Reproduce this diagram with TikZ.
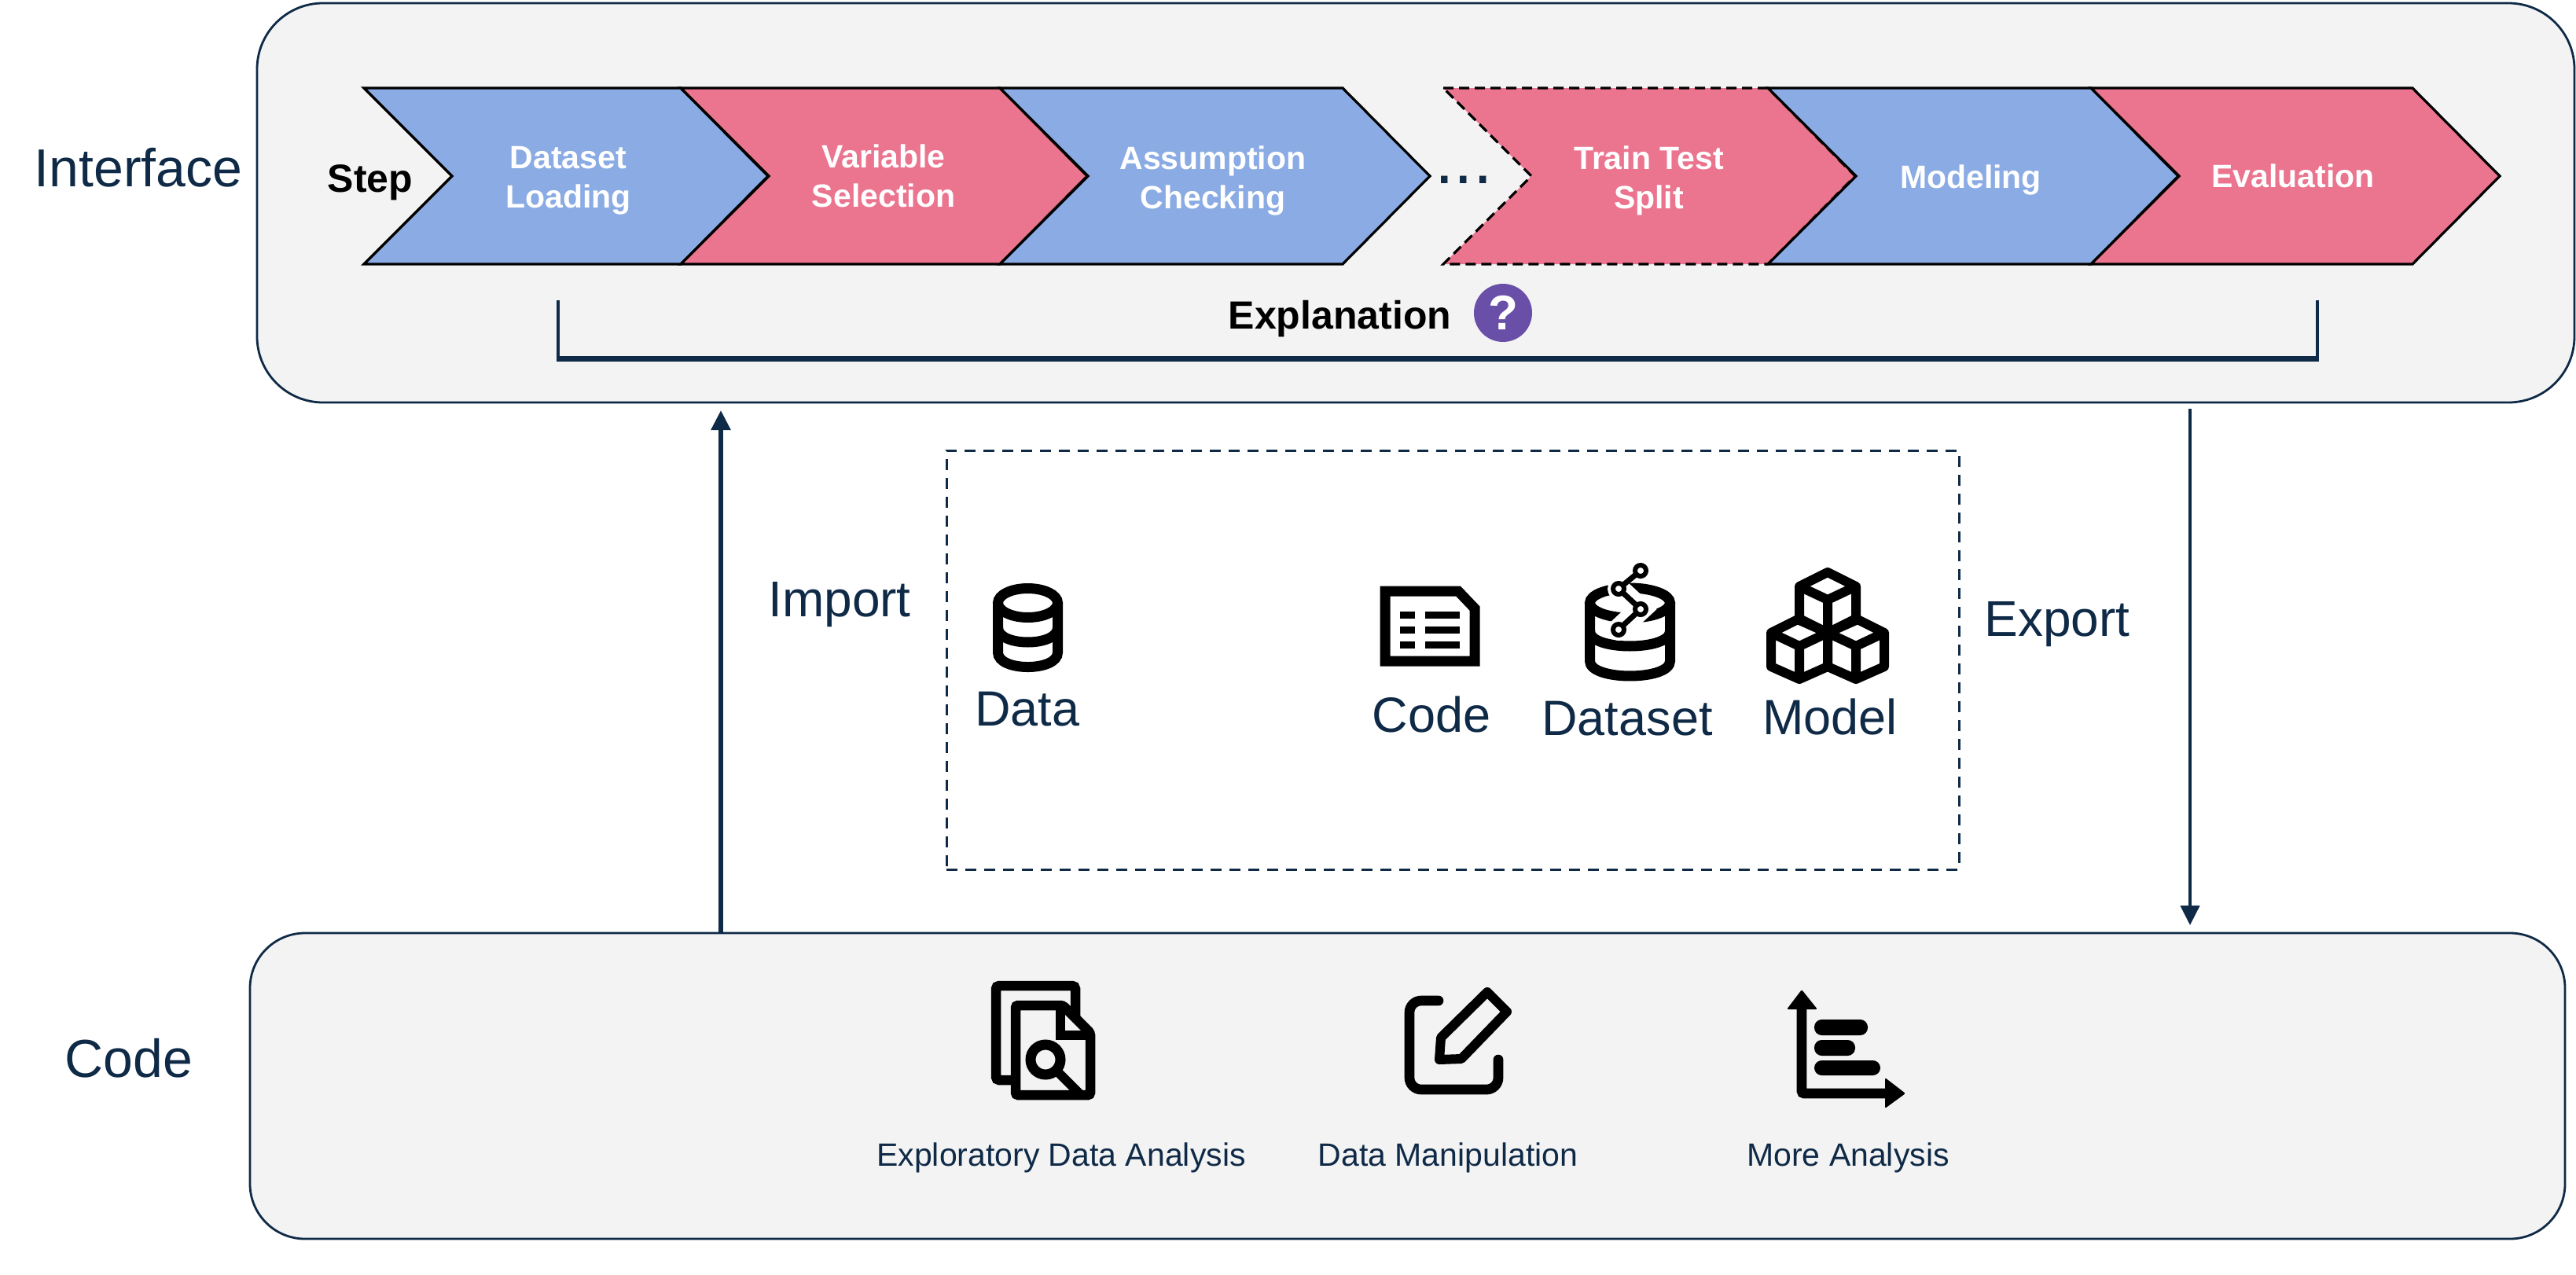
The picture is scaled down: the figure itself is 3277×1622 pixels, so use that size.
\documentclass[tikz,border=0pt]{standalone}
\usepackage{fontspec}
\setmainfont{Liberation Sans}
\usetikzlibrary{arrows.meta}
\definecolor{navy}{HTML}{0F2A47}
\definecolor{panel}{HTML}{F3F3F3}
\definecolor{chblue}{HTML}{8AABE3}
\definecolor{chpink}{HTML}{EB748F}
\definecolor{qpurple}{HTML}{6A4FA8}
\tikzset{
  panelbox/.style={draw=navy,fill=panel,line width=2.8pt,minimum width=#1,inner sep=0pt},
  chevblue/.style={draw=black,fill=chblue,line width=3.2pt,line join=miter},
  chevpink/.style={draw=black,fill=chpink,line width=3.2pt,line join=miter},
  chevtext/.style={text=white,align=center,font=\fontsize{41}{50}\selectfont\bfseries,inner sep=0pt},
  biglabel/.style={text=navy,font=\fontsize{64}{70}\selectfont,inner sep=0pt},
  iconlabel/.style={text=navy,font=\fontsize{63}{70}\selectfont,inner sep=0pt},
  smalllabel/.style={text=navy,font=\fontsize{41}{50}\selectfont,inner sep=0pt},
  boldlabel/.style={text=black,font=\fontsize{50}{60}\selectfont\bfseries,inner sep=0pt},
  flow/.style={draw=navy,-{Triangle[length=25pt,width=24pt]}},
  icon/.style={draw=black,line join=miter},
}
\newcommand{\mychevron}[3]{%
  \draw[#3] (#1,112) -- (#2,112) -- ({#2+111},224) -- (#2,336) -- (#1,336) -- ({#1+112},224) -- cycle;}
\newcommand{\lowerhalf}[4]{% x, y, rx, ry
  ({#1-#3},#2) .. controls ({#1-#3},{#2+1.333*#4}) and ({#1+#3},{#2+1.333*#4}) .. ({#1+#3},#2)}
\newcommand{\mycube}[2]{% cx, top y: hexagon plus inner Y
  \draw[icon,line width=12pt,line join=round] (#1,#2) -- ({#1+36},{#2+18}) -- ({#1+36},{#2+61}) -- (#1,{#2+77}) -- ({#1-36},{#2+61}) -- ({#1-36},{#2+18}) -- cycle;
  \draw[icon,line width=12pt,line join=round] ({#1-36},{#2+18}) -- (#1,{#2+35}) -- ({#1+36},{#2+18}) (#1,{#2+35}) -- (#1,{#2+77});}
\begin{document}
\begin{tikzpicture}[x=1pt,y=-1pt]
\useasboundingbox (0,0) rectangle (3277,1622);

% panels
\node[panelbox=2948pt,minimum height=508pt,rounded corners=84pt] (ui) at (1801,258) {};
\node[panelbox=2945pt,minimum height=389pt,rounded corners=70pt] (codebox) at (1790.5,1381.5) {};

% side labels
\node[biglabel,font=\fontsize{68}{70}\selectfont] (interface) at (176,213) {Interface};
\node[biglabel,font=\fontsize{68}{70}\selectfont] (codelabel) at (164,1346) {Code};

% chevrons
\mychevron{463}{866}{chevblue}
\mychevron{866}{1272}{chevpink}
\mychevron{1272}{1708}{chevblue}
\mychevron{1836}{2249}{chevpink,dash pattern=on 13pt off 7pt}
\mychevron{2249}{2660}{chevblue}
\mychevron{2660}{3069}{chevpink}
\node[boldlabel] (step) at (471,232) {Step};
\node[chevtext] (c1) at (723,230) {Dataset\\Loading};
\node[chevtext] (c2) at (1124,224) {Variable\\Selection};
\node[chevtext] (c3) at (1543,230) {Assumption\\Checking};
\node[chevtext] (c4) at (2097.5,230) {Train Test\\Split};
\node[chevtext] (c5) at (2507,229) {Modeling};
\node[chevtext] (c6) at (2917,224) {Evaluation};
\node[text=navy,font=\fontsize{88}{88}\selectfont,inner sep=0pt,anchor=base] (dots) at (1862,233) {...};

% explanation bracket
\coordinate (bl) at (710,382);
\coordinate (br) at (2948,382);
\draw[navy,line width=3.5pt] (bl) -- (710,456);
\draw[navy,line width=3.5pt] (br) -- (2948,456);
\draw[navy,line width=7pt] (708.25,456) -- (2949.75,456);
\node[boldlabel] (expl) at (1704.5,406) {Explanation};
\node[circle,fill=qpurple,text=white,minimum size=74pt,inner sep=0pt,font=\fontsize{62}{62}\selectfont\bfseries] (q) at (1912,398) {?};

% dashed group
\node[draw=navy,line width=3pt,dash pattern=on 14pt off 10pt,minimum width=1288pt,minimum height=533pt,inner sep=0pt] (group) at (1848,839.5) {};

% arrows
\coordinate (upend) at (917,522);
\coordinate (downstart) at (2786,520);
\coordinate (downend) at (2786,1177);
\draw[flow,line width=5.5pt] (codebox.north -| upend) -- (upend);
\draw[flow,line width=4.5pt] (downstart) -- (downend);
\node[biglabel] (import) at (1068,769) {Import};
\node[biglabel] (export) at (2617,794) {Export};

% icon labels
\node[iconlabel] (ldata) at (1307,902) {Data};
\node[iconlabel] (lcode) at (1821,909) {Code};
\node[iconlabel] (ldataset) at (2070,914) {Dataset};
\node[iconlabel] (lmodel) at (2328,912) {Model};
\node[smalllabel] (leda) at (1350,1473) {Exploratory Data Analysis};
\node[smalllabel] (lman) at (1842,1473) {Data Manipulation};
\node[smalllabel] (lmore) at (2351,1473) {More Analysis};

% data icon
\draw[icon,line width=13pt] (1307.5,767) ellipse [x radius=38,y radius=18.5];
\draw[icon,line width=13pt] (1269.5,767) -- (1269.5,830) .. controls (1269.5,854.7) and (1345.5,854.7) .. (1345.5,830) -- (1345.5,767);
\draw[icon,line width=13pt] \lowerhalf{1307.5}{798.5}{38}{18.5};

% code icon
\draw[icon,line width=13pt] (1762,752) -- (1855,752) -- (1876,774) -- (1876,841) -- (1762,841) -- cycle;
\foreach \yy in {778,797,816}{
  \fill[black] (1781,\yy) rectangle (1800,{\yy+9});
  \fill[black] (1813,\yy) rectangle (1857,{\yy+9});
}

% dataset icon
\draw[icon,line width=13pt] (2073.5,767) ellipse [x radius=51,y radius=19];
\draw[icon,line width=13pt] (2022.5,767) -- (2022.5,841) .. controls (2022.5,866.3) and (2124.5,866.3) .. (2124.5,841) -- (2124.5,767);
\draw[icon,line width=13pt] \lowerhalf{2073.5}{803}{51}{19};
\draw[white,line width=28pt,line cap=round] (2059,749) -- (2087,775) -- (2059,801);
\draw[icon,line width=7pt] (2087,726) -- (2059,749) -- (2087,775) -- (2059,801);
\foreach \px/\py in {2087/726,2059/749,2087/775,2059/801}{
  \draw[black,fill=white,line width=6pt] (\px,\py) circle (7pt);
}

% model icon
\mycube{2325}{728}
\mycube{2289}{787}
\mycube{2361}{787}

% EDA icon
\draw[icon,line width=12.5pt,rounded corners=4pt] (1287,1374) -- (1267,1374) -- (1267,1254) -- (1368,1254) -- (1368,1297);
\draw[icon,line width=12.5pt,rounded corners=3pt] (1292,1279) -- (1352,1279) -- (1387,1314) -- (1387,1393) -- (1292,1393) -- cycle;
\draw[icon,line width=12pt] (1349,1282) -- (1349,1317) -- (1387,1317);
\draw[black,line width=13pt] (1330,1348) circle (19pt);
\draw[black,line width=12pt] (1346,1364) -- (1374,1392);

% edit icon
\draw[icon,line width=12.7pt,line cap=round,rounded corners=15pt] (1830,1273) -- (1793,1273) -- (1793,1386) -- (1906,1386) -- (1906,1348);
\draw[icon,line width=12pt,line join=round] (1892,1262) -- (1917,1287) -- (1859,1347) -- (1831,1348) -- (1833,1320) -- cycle;

% chart icon
\draw[icon,line width=12.7pt,rounded corners=3pt] (2292,1283) -- (2292,1391) -- (2400,1391);
\fill[black,rounded corners=2pt] (2292,1259) -- (2312,1284) -- (2273,1284) -- cycle;
\fill[black,rounded corners=2pt] (2424,1391) -- (2398,1410) -- (2398,1371) -- cycle;
\fill[black,rounded corners=9.5pt] (2308,1297) rectangle (2376,1317);
\fill[black,rounded corners=9.5pt] (2308,1323) rectangle (2360,1343);
\fill[black,rounded corners=9.5pt] (2308,1349) rectangle (2392,1368);
\end{tikzpicture}
\end{document}
